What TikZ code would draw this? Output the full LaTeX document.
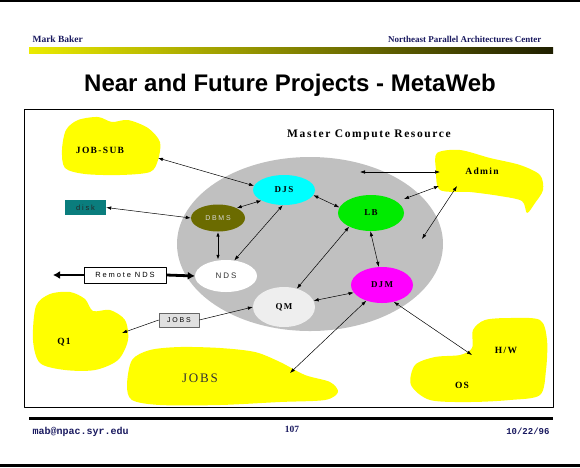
\documentclass[tikz,border=0pt]{standalone}
\usepackage{fontspec}
\setmainfont{Liberation Serif}
\setsansfont{Liberation Sans}
\setmonofont{Liberation Mono}
\newfontfamily\wideserif[LetterSpace=14]{Liberation Serif}
\newfontfamily\widesans[LetterSpace=25]{Liberation Sans}
\usetikzlibrary{shapes.geometric,arrows.meta}
\definecolor{navy}{RGB}{25,25,95}
\definecolor{blobyellow}{RGB}{255,255,0}
\definecolor{dbmsolive}{RGB}{107,107,0}
\definecolor{diskteal}{RGB}{10,125,125}
\definecolor{mcrgrey}{RGB}{192,192,192}
\definecolor{qmgrey}{RGB}{238,238,238}
\definecolor{lbgreen}{RGB}{0,235,0}
\definecolor{djmmagenta}{RGB}{255,0,255}
\definecolor{djscyan}{RGB}{0,255,255}

\begin{document}
\begin{tikzpicture}[x=1pt,y=-1pt,line join=bevel]
  \tikzstyle{proc}=[ellipse,inner sep=0pt,font=\wideserif\bfseries\fontsize{9}{10}\selectfont]
  \tikzstyle{blob}=[fill=blobyellow]
  \tikzstyle{blobtext}=[font=\wideserif\bfseries\fontsize{9.5}{10}\selectfont]
  \tikzstyle{smallbox}=[rectangle,inner sep=0pt,font=\widesans\fontsize{7.5}{8}\selectfont]
  \tikzstyle{link}=[<->,>={Latex[length=5pt,width=3.5pt]},line width=0.5pt]
  \tikzstyle{fatlink}=[->,>={Latex[length=7pt,width=8pt]},line width=2.8pt,line join=miter]
  \useasboundingbox (0,0) rectangle (580,467);

  % page frame
  \fill (0,0) rectangle (580,1.5);
  \fill (0,464) rectangle (580,467);
  \node[anchor=base west,text=navy,font=\bfseries\fontsize{9.5}{10}\selectfont] (author) at (29,42) {Mark Baker};
  \node[anchor=base east,text=navy,font=\bfseries\fontsize{9}{10}\selectfont] (npac) at (545,42) {Northeast Parallel Architectures Center};
  \shade[left color=blobyellow!92!black,right color=black!88!yellow] (29,47) rectangle (553,53);
  \node[font=\sffamily\bfseries\fontsize{24}{28}\selectfont] (title) at (290,85) {Near and Future Projects - MetaWeb};
  \draw[line width=0.8pt] (24,109) rectangle (553,407);
  \fill (29,416.5) rectangle (553,419.5);
  \node[anchor=base west,text=navy,font=\ttfamily\bfseries\fontsize{10}{10}\selectfont] (email) at (29,434) {mab@npac.syr.edu};
  \node[anchor=base,text=navy,font=\bfseries\fontsize{9.5}{10}\selectfont] (page) at (292,432) {107};
  \node[anchor=base east,text=navy,font=\ttfamily\bfseries\fontsize{9}{10}\selectfont] (date) at (553,434) {10/22/96};

  % yellow areas
  \fill[blob] plot[smooth cycle] coordinates {(62,150) (66,130) (78,120) (98,117) (112,122) (128,120) (148,128) (160,142) (158,160) (150,172) (120,175) (85,174) (65,168)};
  \fill[blob] plot[smooth cycle] coordinates {(437,153) (460,150) (490,158) (520,165) (540,175) (543,190) (535,203) (527,213) (522,201) (500,196) (470,192) (440,190) (436,170)};
  \fill[blob] plot[smooth cycle] coordinates {(33,340) (36,306) (50,294) (70,292) (85,299) (93,311) (110,310) (125,320) (128,340) (118,360) (95,370) (65,370) (40,363)};
  \fill[blob] plot[smooth cycle] coordinates {(127,385) (132,360) (150,350) (180,347) (220,348) (255,352) (280,362) (305,375) (330,382) (338,392) (325,400) (280,402) (220,405) (160,405) (132,400)};
  \fill[blob] plot[smooth cycle] coordinates {(473,330) (485,320) (510,318) (540,320) (547,340) (546,370) (540,395) (510,400) (470,402) (430,400) (411,385) (415,365) (435,357) (460,355) (472,348)};

  \node[blobtext] (jobsub) at (100,150) {JOB-SUB};
  \node[blobtext] (admin) at (482,171) {Admin};
  \node[blobtext] (Q1) at (64,342) {Q1};
  \node[font=\wideserif\fontsize{13}{14}\selectfont,text=black!80] (jobs) at (200,378) {JOBS};
  \node[blobtext] (hw) at (506,350) {H/W};
  \node[blobtext] (os) at (462,385) {OS};

  % master compute resource
  \node[ellipse,fill=mcrgrey,minimum width=266pt,minimum height=174pt] (mcr) at (310,244) {};
  \node[font=\wideserif\bfseries\fontsize{11.5}{12}\selectfont] (mcrlabel) at (369,135) {Master Compute Resource};

  \node[proc,fill=djscyan,minimum width=62pt,minimum height=30pt] (DJS) at (284,190) {DJS};
  \node[proc,fill=dbmsolive,minimum width=54pt,minimum height=27pt,font=\widesans\fontsize{7}{7}\selectfont,text=black!15] (DBMS) at (218,218) {DBMS};
  \node[proc,fill=white,minimum width=62pt,minimum height=32pt,font=\widesans\fontsize{8}{8}\selectfont,text=black!80] (NDS) at (226,276) {NDS};
  \node[proc,fill=qmgrey,minimum width=62pt,minimum height=40pt] (QM) at (284,307) {QM};
  \node[proc,fill=lbgreen,minimum width=66pt,minimum height=36pt] (LB) at (371,213) {LB};
  \node[proc,fill=djmmagenta,minimum width=62pt,minimum height=36pt] (DJM) at (382,285) {DJM};

  \node[smallbox,fill=diskteal,minimum width=41pt,minimum height=15pt,text=black!85] (disk) at (85.5,207.5) {disk};
  \node[smallbox,draw,fill=white,line width=0.7pt,minimum width=82pt,minimum height=16pt] (remote) at (125,275) {Remote NDS};
  \node[smallbox,draw=black!60,fill=black!12,line width=0.6pt,minimum width=40pt,minimum height=14pt,font=\widesans\fontsize{7}{7}\selectfont] (jobsbox) at (179,320) {JOBS};

  % free ends
  \coordinate (jobsubE) at (158,158);
  \coordinate (adminW) at (440,172);
  \coordinate (adminSW) at (439,186);
  \coordinate (adminS) at (457,186);
  \coordinate (mcrTop) at (360,172);
  \coordinate (mcrRight) at (404,199);
  \coordinate (mcrEdge) at (422,239);
  \coordinate (Q1E) at (122,333);
  \coordinate (jobsNE) at (290,373);
  \coordinate (hwW) at (472,355);
  \coordinate (remoteEnd) at (53,275);

  \path (jobsubE) edge [link] (DJS.172)
        (disk.east) edge [link] (DBMS.west)
        (DBMS.28) edge [link] (DJS.205)
        (NDS.62) edge [link] (DJS.265)
        (DJS.350) edge [link] (LB.170)
        (QM.55) edge [link] (LB.212)
        (LB.268) edge [link] (DJM.100)
        (QM.12) edge [link] (DJM.195)
        (DJM.225) edge [link] (jobsNE)
        (DJM.305) edge [link] (hwW)
        (mcrTop) edge [link] (adminW)
        (mcrRight) edge [link] (adminSW)
        (mcrEdge) edge [link] (adminS)
        (jobsbox.east) edge [->,>={Latex[length=5pt,width=3.5pt]},line width=0.5pt] (QM.west)
        (jobsbox.west) edge [->,>={Latex[length=5pt,width=3.5pt]},line width=0.5pt] (Q1E);
  \draw[link,line width=1pt] (DBMS.south) -- (DBMS.south |- NDS.north);
  \draw[fatlink] (remote.west) -- (remoteEnd);
  \draw[fatlink] (remote.east) -- (NDS.west);
\end{tikzpicture}
\end{document}
